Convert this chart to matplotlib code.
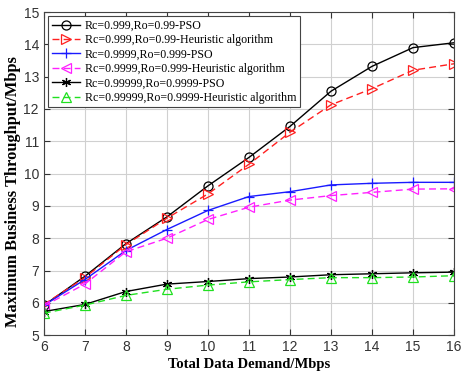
import numpy as np
import matplotlib
matplotlib.use("Agg")
import matplotlib.pyplot as plt

# Data
demand = [6, 7, 8, 9, 10, 11, 12, 13, 14, 15, 16]

pso_1 = [5.92, 6.82, 7.83, 8.66, 9.62, 10.5, 11.46, 12.55, 13.32, 13.9, 14.05]
heur_1 = [5.95, 6.78, 7.8, 8.62, 9.37, 10.29, 11.28, 12.13, 12.63, 13.2, 13.4]
pso_2 = [5.92, 6.72, 7.62, 8.27, 8.86, 9.29, 9.44, 9.65, 9.7, 9.73, 9.73]
heur_2 = [5.9, 6.58, 7.58, 8.0, 8.58, 8.96, 9.18, 9.32, 9.42, 9.52, 9.53]
pso_3 = [5.73, 5.95, 6.35, 6.58, 6.66, 6.75, 6.8, 6.87, 6.9, 6.93, 6.95]
heur_3 = [5.68, 5.93, 6.23, 6.42, 6.55, 6.65, 6.72, 6.78, 6.78, 6.8, 6.84]

labels = [
    "Rc=0.999,Ro=0.99-PSO",
    "Rc=0.999,Ro=0.99-Heuristic algorithm",
    "Rc=0.9999,Ro=0.999-PSO",
    "Rc=0.9999,Ro=0.999-Heuristic algorithm",
    "Rc=0.99999,Ro=0.9999-PSO",
    "Rc=0.99999,Ro=0.9999-Heuristic algorithm",
]

plt.rcParams["font.family"] = ["Liberation Sans", "DejaVu Sans"]

fig = plt.figure(figsize=(4.61, 3.77), dpi=100)
ax = fig.add_axes([0.095, 0.111, 0.89, 0.857])

# (series, color, linestyle, marker)
styles = [
    (pso_1, "black", "-", "o"),
    (heur_1, "#ff2020", (0, (5, 3)), ">"),
    (pso_2, "#1a1aff", "-", "+"),
    (heur_2, "#ff20ff", (0, (5, 3)), "<"),
    (pso_3, "black", "-", (6, 2, 0)),
    (heur_3, "#20e020", (0, (5, 3)), "^"),
]

for (vals, col, ls, mk), lab in zip(styles, labels):
    ax.plot(demand, vals, color=col, linestyle=ls, linewidth=1.0,
            marker=mk, markersize=6.5, markerfacecolor="none",
            markeredgecolor=col, markeredgewidth=0.9, label=lab)

ax.set_xlim(6, 16)
ax.set_ylim(5, 15)
ax.set_xticks(np.arange(6, 17, 1))
ax.set_yticks(np.arange(5, 16, 1))
ax.grid(True, color="#d0d0d0", linewidth=0.8)
ax.tick_params(direction="in", top=True, right=True, labelsize=10,
               colors="#333333", length=4)
for sp in ax.spines.values():
    sp.set_color("#444444")
    sp.set_linewidth(0.8)

ax.set_xlabel("Total Data Demand/Mbps", fontsize=10.5, fontweight="bold",
              family="Liberation Serif", labelpad=3)
ax.set_ylabel("Maximum Business Throughput/Mbps", fontsize=11.8,
              fontweight="bold", family="Liberation Serif")
ax.yaxis.set_label_coords(-0.055, 0.445)

leg = ax.legend(loc="upper left", prop={"family": "Liberation Serif", "size": 8.6},
                handlelength=2.4, handletextpad=0.4, labelspacing=0.2,
                borderpad=0.3, borderaxespad=0.35, fancybox=False, framealpha=1)
leg.get_frame().set_edgecolor("#444444")
leg.get_frame().set_linewidth(0.8)

fig.savefig("out.png", dpi=100)
